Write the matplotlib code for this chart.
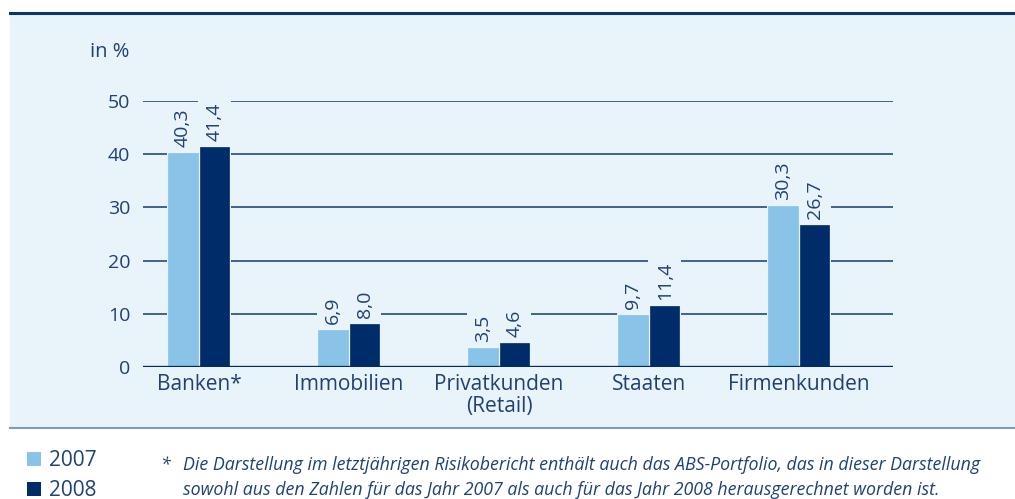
import matplotlib.pyplot as plt
import matplotlib.patches as mpatches
from matplotlib.transforms import offset_copy
import numpy as np

categories = ["Banken*", "Immobilien", "Privatkunden\n(Retail)", "Staaten", "Firmenkunden"]
vals_2007 = [40.3, 6.9, 3.5, 9.7, 30.3]
vals_2008 = [41.4, 8.0, 4.6, 11.4, 26.7]
labels_2007 = ["40,3", "6,9", "3,5", "9,7", "30,3"]
labels_2008 = ["41,4", "8,0", "4,6", "11,4", "26,7"]
yticks = [0, 10, 20, 30, 40, 50]

panel = "#e8f3fa"
light = "#89c4e8"
dark = "#002d69"
txt = "#1f4175"

plt.rcParams['font.family'] = ['Open Sans', 'DejaVu Sans']

W, H = 1015, 499
fig = plt.figure(figsize=(W / 100, H / 100), dpi=100)
fig.patch.set_facecolor("white")

# panel background and rules
fig.patches.append(mpatches.Rectangle((10 / W, 1 - 428 / H), 1, (428 - 13) / H,
                                      transform=fig.transFigure, facecolor=panel,
                                      edgecolor="none", zorder=-5))
fig.add_artist(plt.Line2D([10 / W, 1], [1 - 13 / H] * 2, color="#0a3570", lw=2.2, zorder=-4))
fig.add_artist(plt.Line2D([10 / W, 1], [1 - 428 / H] * 2, color="#7f9bbb", lw=1.5, zorder=-4))

ax = fig.add_axes([143 / W, 1 - 367 / H, 750 / W, (367 - 101) / H])
ax.set_facecolor("none")
ax.set_zorder(2)
for s in ax.spines.values():
    s.set_visible(False)

x = np.arange(len(categories))
bw = 0.195
off = 0.106
ax.set_xlim(-0.373, 4.627)
ax.set_ylim(0, 50)

for t in yticks[1:]:
    ax.axhline(t, color="#123a70", lw=1.1, zorder=1)
ax.axhline(0, color=dark, lw=2.4, zorder=6)

ax.set_yticks(yticks)
ax.set_yticklabels([str(t) for t in yticks], fontsize=14, color=txt)
ax.tick_params(axis="y", length=0, pad=9)
ax.set_xticks(x)
ax.set_xticklabels(categories, fontsize=15, color=txt, linespacing=1.05)
ax.tick_params(axis="x", length=0, pad=5)

texts = []
for xs, vals, labs, col in [(x - off, vals_2007, labels_2007, light),
                            (x + off, vals_2008, labels_2008, dark)]:
    ax.bar(xs, vals, width=bw, color=col, edgecolor=col, lw=0.5, zorder=3)
    for xi, v, lab in zip(xs, vals, labs):
        tr = offset_copy(ax.transData, fig=fig, x=0, y=6, units="dots")
        t = ax.text(xi, v, lab, rotation=90, ha="center", va="bottom",
                    fontsize=14, color=txt, transform=tr, zorder=5)
        texts.append((xi, t))

# mask gridlines behind each bar column up to the top of its label
fig.canvas.draw()
inv = ax.transData.inverted()
for xi, t in texts:
    bb = t.get_window_extent()
    top = inv.transform((bb.x0, bb.y1 + 3))[1]
    ax.add_patch(mpatches.Rectangle((xi - 0.11, 0), 0.217, top,
                                    facecolor=panel, edgecolor="none", zorder=2))

fig.text(129 / W, 1 - 52 / H, "in %", ha="right", va="center", fontsize=14.5, color=txt)

# legend
fig.patches.append(mpatches.Rectangle((27 / W, 1 - 466 / H), 14 / W, 14 / H,
                                      transform=fig.transFigure, facecolor=light, edgecolor="none"))
fig.patches.append(mpatches.Rectangle((27 / W, 1 - 496 / H), 14 / W, 14 / H,
                                      transform=fig.transFigure, facecolor=dark, edgecolor="none"))
fig.text(49 / W, 1 - 460 / H, "2007", ha="left", va="center", fontsize=15, color=txt)
fig.text(49 / W, 1 - 490 / H, "2008", ha="left", va="center", fontsize=15, color=txt)

# footnote
fig.text(160 / W, 1 - 465 / H, "*", ha="left", va="center", fontsize=12.8, color=txt, style="italic")
fig.text(183 / W, 1 - 465 / H,
         "Die Darstellung im letztjährigen Risikobericht enthält auch das ABS-Portfolio, das in dieser Darstellung",
         ha="left", va="center", fontsize=12.8, color=txt, style="italic")
fig.text(183 / W, 1 - 490 / H,
         "sowohl aus den Zahlen für das Jahr 2007 als auch für das Jahr 2008 herausgerechnet worden ist.",
         ha="left", va="center", fontsize=12.8, color=txt, style="italic")

fig.savefig("out.png", dpi=100)
